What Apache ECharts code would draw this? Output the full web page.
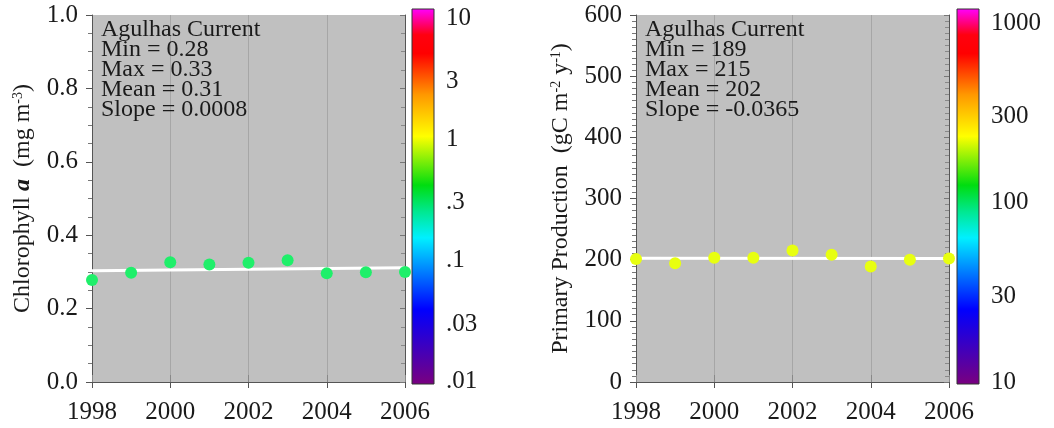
<!DOCTYPE html>
<html>
<head>
<meta charset="utf-8">
<script src="https://cdn.jsdelivr.net/npm/echarts@6/dist/echarts.min.js"></script>
<style>
  html, body { margin: 0; padding: 0; background: #fff; }
  #chart { width: 1054px; height: 428px; }
</style>
</head>
<body>
<div id="chart"></div>
<script>
// data
const years = [1998, 1999, 2000, 2001, 2002, 2003, 2004, 2005, 2006]
const chlValues = [0.278, 0.298, 0.326, 0.320, 0.325, 0.332, 0.296, 0.299, 0.300]
const ppValues = [201, 194, 203, 203, 215, 208, 189, 200, 202]
const chlTrend = [0.303, 0.311]   // at 1998 and 2006
const ppTrend = [202.2, 201.9]
const chlStats = ['Agulhas Current', 'Min = 0.28', 'Max = 0.33', 'Mean = 0.31', 'Slope = 0.0008']
const ppStats = ['Agulhas Current', 'Min = 189', 'Max = 215', 'Mean = 202', 'Slope = -0.0365']

// colour bar ticks (log scale)
const chlBarTicks = [0.01, 0.03, 0.1, 0.3, 1, 3, 10]
const chlBarLabels = ['.01', '.03', '.1', '.3', '1', '3', '10']
const chlBarRange = [0.0096, 11.9]
const ppBarTicks = [10, 30, 100, 300, 1000]
const ppBarLabels = ['10', '30', '100', '300', '1000']
const ppBarRange = [9.75, 1197]

const FONT = 'Liberation Serif'
const INK = '#1a1a1a'
const AXIS = '#555'

const chart = echarts.init(document.getElementById('chart'))

const rainbow = () => new echarts.graphic.LinearGradient(0, 1, 0, 0, [
  { offset: 0, color: '#7a007f' },
  { offset: 0.2, color: '#0000ff' },
  { offset: 0.39, color: '#00f0ff' },
  { offset: 0.46, color: '#00e890' },
  { offset: 0.53, color: '#00dd10' },
  { offset: 0.66, color: '#ffff00' },
  { offset: 0.77, color: '#ff9900' },
  { offset: 0.88, color: '#ff0000' },
  { offset: 0.93, color: '#ff0010' },
  { offset: 1, color: '#ff00ff' }
])

function barRender(params, api) {
  const p0 = api.coord([0, api.value(0)])
  const p1 = api.coord([1, api.value(1)])
  return {
    type: 'rect',
    shape: { x: p0[0], y: p1[1], width: p1[0] - p0[0], height: p0[1] - p1[1] },
    style: { fill: rainbow(), stroke: '#333', lineWidth: 1 }
  }
}

function plotX(grid) {
  return [{
    gridIndex: grid,
    type: 'value',
    min: 1998,
    max: 2006,
    interval: 2,
    axisLine: { lineStyle: { color: AXIS } },
    axisTick: { length: 6, lineStyle: { color: AXIS } },
    axisLabel: { margin: 18, fontSize: 25, fontFamily: FONT, color: INK, formatter: v => String(v) },
    splitLine: { show: true, lineStyle: { color: '#a6a6a6', width: 1 } }
  }, {
    gridIndex: grid,
    type: 'value',
    position: 'top',
    min: 1998,
    max: 2006,
    interval: 2,
    axisLine: { lineStyle: { color: AXIS } },
    axisTick: { length: 7, lineStyle: { color: '#888' } },
    axisLabel: { show: false },
    splitLine: { show: false }
  }, {
    gridIndex: grid + 1,
    type: 'value',
    min: 0,
    max: 1,
    show: false
  }]
}

function plotY(grid, max, interval, minor, fmt, name, gap) {
  return [{
    gridIndex: grid,
    type: 'value',
    min: 0,
    max: max,
    interval: interval,
    axisLine: { show: true, lineStyle: { color: AXIS } },
    axisTick: { show: true, length: 6, lineStyle: { color: AXIS } },
    minorTick: { show: true, splitNumber: minor, length: 4, lineStyle: { color: '#777' } },
    axisLabel: { margin: 14, fontSize: 25, fontFamily: FONT, color: INK, formatter: fmt },
    splitLine: { show: false },
    name: name,
    nameLocation: 'middle',
    nameGap: gap,
    nameTextStyle: {
      fontSize: 24,
      fontFamily: FONT,
      color: INK,
      rich: {
        ai: { fontSize: 24, fontFamily: FONT, fontWeight: 'bold', fontStyle: 'italic', color: INK },
        sup: { fontSize: 14, fontFamily: FONT, color: INK, verticalAlign: 'top', padding: [0, 0, 10, 0] }
      }
    }
  }, {
    gridIndex: grid,
    type: 'value',
    position: 'right',
    min: 0,
    max: max,
    interval: interval,
    axisLine: { show: true, lineStyle: { color: AXIS } },
    axisTick: { show: true, inside: true, length: 5, lineStyle: { color: '#777' } },
    minorTick: { show: true, splitNumber: minor, length: 4, lineStyle: { color: '#888' } },
    axisLabel: { show: false },
    splitLine: { show: false }
  }]
}

function barY(grid, ticks, labels, range) {
  const logs = ticks.map(Math.log10)
  return {
    gridIndex: grid,
    type: 'value',
    position: 'right',
    min: Math.log10(range[0]),
    max: Math.log10(range[1]),
    axisLine: { show: false },
    axisTick: { show: true, length: 7, customValues: logs, lineStyle: { color: '#333' } },
    axisLabel: {
      margin: 12,
      fontSize: 25,
      fontFamily: FONT,
      color: INK,
      customValues: logs,
      formatter: v => {
        const i = logs.findIndex(l => Math.abs(l - v) < 1e-6)
        return i >= 0 ? labels[i] : ''
      }
    },
    splitLine: { show: false }
  }
}

const statText = {
  fontSize: 24,
  lineHeight: 20,
  fontWeight: 'normal',
  fontFamily: FONT,
  color: INK
}

chart.setOption({
  animation: false,
  title: [
    { text: chlStats.join('\n'), left: 96, top: 15, textStyle: statText },
    { text: ppStats.join('\n'), left: 640, top: 15, textStyle: statText }
  ],
  grid: [
    { left: 92, top: 15, width: 313, height: 367, show: true, backgroundColor: '#c0c0c0', borderWidth: 0 },
    { left: 412, top: 9, width: 22, height: 375 },
    { left: 636, top: 15, width: 313, height: 367, show: true, backgroundColor: '#c0c0c0', borderWidth: 0 },
    { left: 957, top: 9, width: 22, height: 375 }
  ],
  xAxis: [].concat(plotX(0), plotX(2)),
  yAxis: [].concat(
    plotY(0, 1.0, 0.2, 4, v => v.toFixed(1), 'Chlorophyll {ai|a}  (mg m{sup|-3})', 57),
    [barY(1, chlBarTicks, chlBarLabels, chlBarRange)],
    plotY(2, 600, 100, 10, v => String(v), 'Primary Production  (gC m{sup|-2} y{sup|-1})', 63),
    [barY(3, ppBarTicks, ppBarLabels, ppBarRange)]
  ),
  series: [
    {
      type: 'line',
      xAxisIndex: 0,
      yAxisIndex: 0,
      data: [[years[0], chlTrend[0]], [years[years.length - 1], chlTrend[1]]],
      symbol: 'none',
      lineStyle: { color: '#ffffff', width: 3 },
      z: 3
    },
    {
      type: 'scatter',
      xAxisIndex: 0,
      yAxisIndex: 0,
      data: years.map((y, i) => [y, chlValues[i]]),
      symbolSize: 12,
      itemStyle: { color: '#1fef6a', opacity: 1 },
      clip: false,
      z: 4
    },
    {
      type: 'custom',
      xAxisIndex: 2,
      yAxisIndex: 2,
      data: [[Math.log10(chlBarRange[0]), Math.log10(chlBarRange[1])]],
      encode: { x: -1, y: [0, 1] },
      renderItem: barRender,
      clip: false
    },
    {
      type: 'line',
      xAxisIndex: 3,
      yAxisIndex: 3,
      data: [[years[0], ppTrend[0]], [years[years.length - 1], ppTrend[1]]],
      symbol: 'none',
      lineStyle: { color: '#ffffff', width: 3 },
      z: 3
    },
    {
      type: 'scatter',
      xAxisIndex: 3,
      yAxisIndex: 3,
      data: years.map((y, i) => [y, ppValues[i]]),
      symbolSize: 12,
      itemStyle: { color: '#e8ff10', opacity: 1 },
      clip: false,
      z: 4
    },
    {
      type: 'custom',
      xAxisIndex: 5,
      yAxisIndex: 5,
      data: [[Math.log10(ppBarRange[0]), Math.log10(ppBarRange[1])]],
      encode: { x: -1, y: [0, 1] },
      renderItem: barRender,
      clip: false
    }
  ]
})
</script>
</body>
</html>
